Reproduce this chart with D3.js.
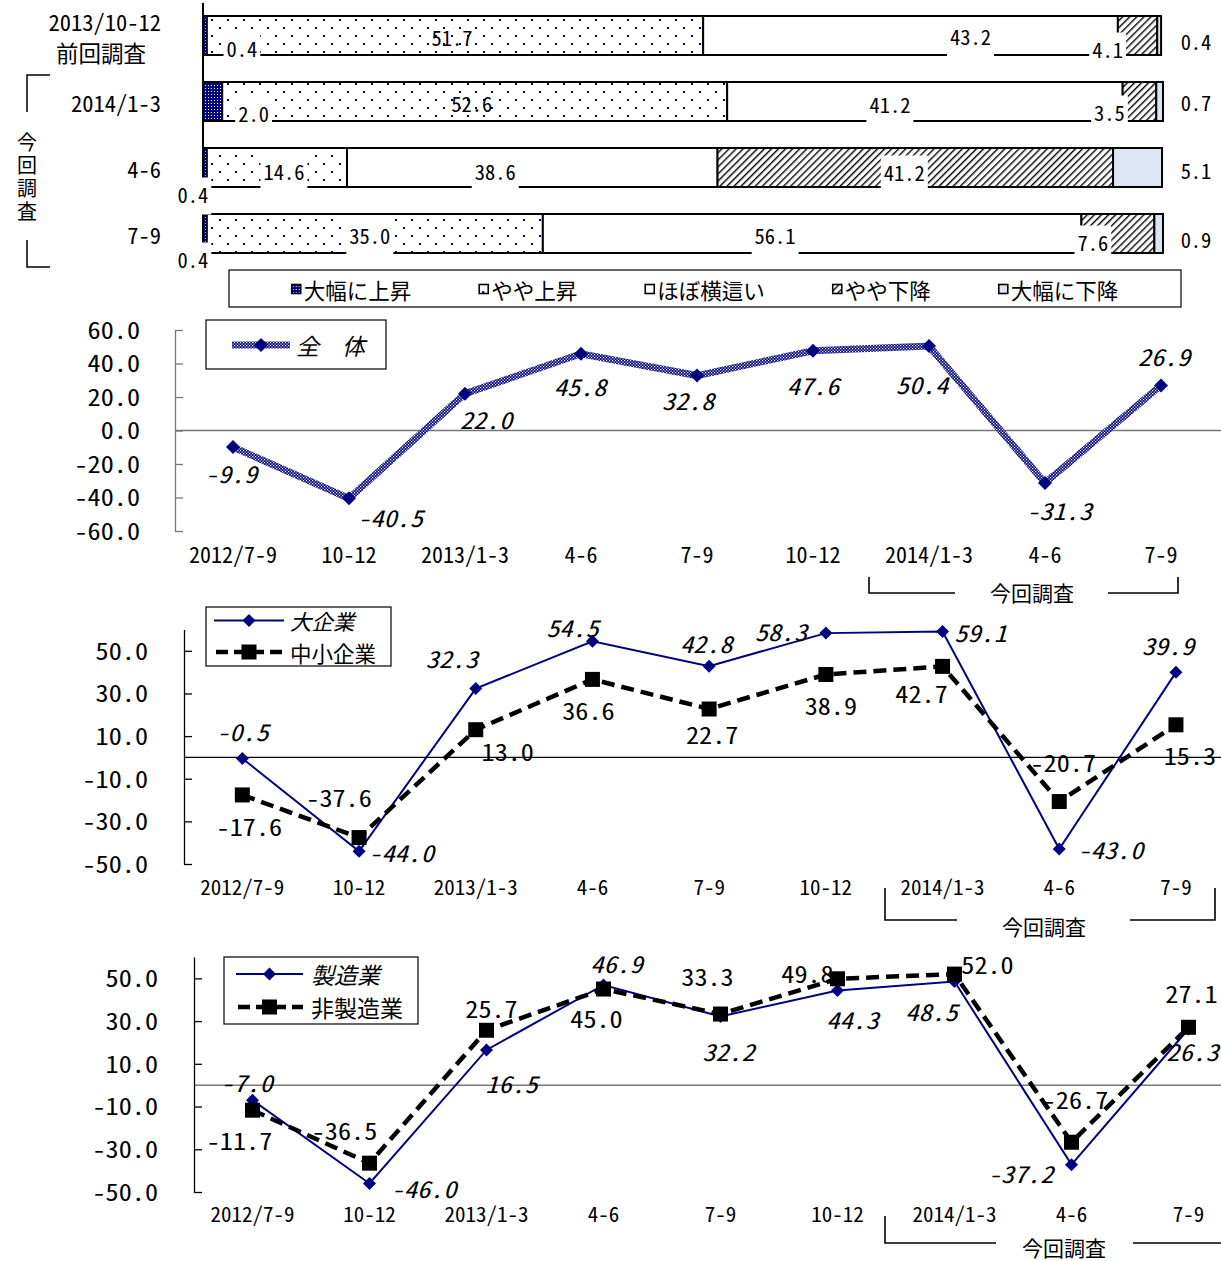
<!DOCTYPE html>
<html><head><meta charset="utf-8">
<script src="https://cdn.jsdelivr.net/npm/d3@7"></script>
<style>body{margin:0;background:#fff} svg{display:block}</style>
</head><body>
<svg id="c" width="1221" height="1261"></svg>
<script>
// ---------------- DATA ----------------
const barRows = ["2013/10-12", "2014/1-3", "4-6", "7-9"];
const barRowNote = "前回調査";
const barSeries = ["大幅に上昇", "やや上昇", "ほぼ横這い", "やや下降", "大幅に下降"];
const barValues = [
  [0.4, 51.7, 43.2, 4.1, 0.4],
  [2.0, 52.6, 41.2, 3.5, 0.7],
  [0.4, 14.6, 38.6, 41.2, 5.1],
  [0.4, 35.0, 56.1, 7.6, 0.9]
];
const quarters = ["2012/7-9", "10-12", "2013/1-3", "4-6", "7-9", "10-12", "2014/1-3", "4-6", "7-9"];
const currentLabel = "今回調査";
const totalName = "全　体";
const totalValues = [-9.9, -40.5, 22.0, 45.8, 32.8, 47.6, 50.4, -31.3, 26.9];
const sizeNames = ["大企業", "中小企業"];
const largeValues = [-0.5, -44.0, 32.3, 54.5, 42.8, 58.3, 59.1, -43.0, 39.9];
const smeValues = [-17.6, -37.6, 13.0, 36.6, 22.7, 38.9, 42.7, -20.7, 15.3];
const industryNames = ["製造業", "非製造業"];
const mfgValues = [-7.0, -46.0, 16.5, 46.9, 32.2, 44.3, 48.5, -37.2, 26.3];
const nonMfgValues = [-11.7, -36.5, 25.7, 45.0, 33.3, 49.8, 52.0, -26.7, 27.1];
const ticksTotal = [60, 40, 20, 0, -20, -40, -60];
const ticksSplit = [50, 30, 10, -10, -30, -50];

// ---------------- STYLE / LAYOUT ----------------
const FONT = "'Noto Sans Mono CJK JP','Noto Sans CJK JP','Noto Sans',sans-serif";
const NAVY = "#000080";
const SX = 1.14;
const svg = d3.select("#c").attr("font-family", FONT);
const defs = svg.append("defs");

function pat(id, w, h, rot) {
  const p = defs.append("pattern").attr("id", id).attr("patternUnits", "userSpaceOnUse")
    .attr("width", w).attr("height", h);
  if (rot) p.attr("patternTransform", `rotate(${rot})`);
  return p;
}
let p = pat("pUp2", 3, 3);
p.append("rect").attr("width", 3).attr("height", 3).attr("fill", NAVY);
p.append("rect").attr("x", 1).attr("y", 1).attr("width", 1).attr("height", 1).attr("fill", "#fff");
p = pat("pUp1", 16, 16);
p.append("rect").attr("width", 16).attr("height", 16).attr("fill", "#fff");
p.append("rect").attr("x", 3).attr("y", 3).attr("width", 2).attr("height", 2).attr("fill", NAVY);
p.append("rect").attr("x", 11).attr("y", 11).attr("width", 2).attr("height", 2).attr("fill", NAVY);
p = pat("pDn1", 5, 5, 45);
p.append("rect").attr("width", 5).attr("height", 5).attr("fill", "#fff");
p.append("rect").attr("width", 1.4).attr("height", 5).attr("fill", "#000");
p = pat("pChk", 3, 3);
p.append("rect").attr("width", 3).attr("height", 3).attr("fill", NAVY);
p.append("rect").attr("width", 1.2).attr("height", 1.2).attr("fill", "#fff");
p.append("rect").attr("x", 1.5).attr("y", 1.5).attr("width", 1.2).attr("height", 1.2).attr("fill", "#fff");

const barFills = ["url(#pUp2)", "url(#pUp1)", "#fff", "url(#pDn1)", "#DCE6F2"];

function stretchText(g, x, y, str, size, italic, anchor) {
  return g.append("text")
    .attr("transform", `translate(${x},${y}) scale(${SX},1)`)
    .attr("text-anchor", anchor || "middle").attr("dominant-baseline", "central")
    .attr("font-size", size).attr("font-style", italic ? "italic" : "normal")
    .attr("fill", "#000").text(str);
}
function plainText(g, x, y, str, size, anchor, italic) {
  return g.append("text").attr("x", x).attr("y", y)
    .attr("text-anchor", anchor || "middle").attr("dominant-baseline", "central")
    .attr("font-size", size).attr("font-style", italic ? "italic" : "normal")
    .attr("fill", "#000").text(str);
}
function diamond(g, cx, cy, r, fill) {
  g.append("path").attr("d", `M${cx},${cy - r}L${cx + r},${cy}L${cx},${cy + r}L${cx - r},${cy}Z`).attr("fill", fill);
}
function square(g, cx, cy, s) {
  g.append("rect").attr("x", cx - s / 2).attr("y", cy - s / 2).attr("width", s).attr("height", s).attr("fill", "#000");
}

// ---------------- STACKED BAR CHART ----------------
const bx = d3.scaleLinear().domain([0, 100]).range([203, 1163]);
const by = d3.scaleBand().domain(d3.range(barRows.length)).range([2.5, 266.5])
  .paddingInner(27 / 66).paddingOuter(27 / 132);
const gb = svg.append("g");
gb.append("line").attr("x1", 203).attr("x2", 203).attr("y1", 3).attr("y2", 268)
  .attr("stroke", "#000").attr("stroke-width", 2);

const segs = [];
barValues.forEach((vals, r) => {
  let cum = 0;
  vals.forEach((v, k) => { segs.push({ r, k, v, a: cum, b: cum + v }); cum += v; });
});
gb.selectAll("rect.seg").data(segs).join("rect").attr("class", "seg")
  .attr("x", d => bx(d.a)).attr("width", d => bx(d.b) - bx(d.a))
  .attr("y", d => by(d.r)).attr("height", by.bandwidth())
  .attr("fill", d => barFills[d.k]).attr("stroke", "#000").attr("stroke-width", 2);

// label nudges relative to segment centre (layout only)
const barNudge = [
  [[37, 12], [-3, 1], [60, 0], [-30, 13], [null, 5]],
  [[41, 11], [-3, 1], [-35, 2], [-30, 10], [null, 0]],
  [[-12, 26], [7, 3], [-37, 3], [-11, 4], [null, 2]],
  [[-12, 25], [-5, 1], [-37, 1], [-25, 8], [null, 5]]
];
const noBg = new Set(["0-1", "1-1"]);
segs.forEach(d => {
  const nd = barNudge[d.r][d.k];
  const cx = nd[0] === null ? 1196 : (bx(d.a) + bx(d.b)) / 2 + nd[0];
  const cy = by(d.r) + by.bandwidth() / 2 + nd[1];
  const lg = gb.append("g");
  const bg = lg.append("rect").attr("fill", "#fff");
  const t = plainText(lg, cx, cy, d.v.toFixed(1), 20.5);
  if (!noBg.has(d.r + "-" + d.k) && nd[0] !== null) {
    const bb = t.node().getBBox();
    bg.attr("x", bb.x - 3).attr("width", bb.width + 6).attr("y", cy - 16).attr("height", 37);
  } else bg.remove();
});

// row labels
barRows.forEach((r, i) => {
  const cy = by(i) + by.bandwidth() / 2 + (i === 0 ? -15 : 0);
  plainText(gb, 161, cy, r, 22.5, "end");
});
plainText(gb, 101, by(0) + by.bandwidth() / 2 + 16, barRowNote, 22.5, "middle");
// vertical bracket with 今回調査
gb.append("path").attr("d", "M50,75H27V112M27,240V267H50").attr("fill", "none").attr("stroke", "#000").attr("stroke-width", 1.5);
gb.append("text").attr("x", 27).attr("y", 132).attr("writing-mode", "vertical-rl")
  .attr("font-size", 20).attr("letter-spacing", 3).attr("fill", "#000").text(currentLabel);

// legend
const lgB = svg.append("g");
lgB.append("rect").attr("x", 229).attr("y", 270).attr("width", 952).attr("height", 37)
  .attr("fill", "#fff").attr("stroke", "#000").attr("stroke-width", 1.2);
const items = barSeries.map((name, k) => {
  const g = lgB.append("g");
  g.append("rect").attr("x", 0).attr("y", 284.5).attr("width", 9).attr("height", 9)
    .attr("fill", barFills[k]).attr("stroke", "#000").attr("stroke-width", 1.6);
  const t = plainText(g, 12, 289, name, 21.5, "start");
  return { g, w: 12 + t.node().getComputedTextLength() };
});
const gap = 68;
const tot = d3.sum(items, d => d.w) + gap * (items.length - 1);
let cx0 = 705 - tot / 2;
items.forEach(it => { it.g.attr("transform", `translate(${cx0},0)`); cx0 += it.w + gap; });

// ---------------- LINE CHARTS ----------------
function lineChart(cfg) {
  const g = svg.append("g");
  const x = d3.scaleBand().domain(d3.range(quarters.length))
    .range([cfg.x0, cfg.x0 + cfg.step * quarters.length]);
  const y = d3.scaleLinear().domain(cfg.domain).range([cfg.yBottom, cfg.yTop]);
  const px = i => x(i) + x.bandwidth() / 2;

  // zero line
  g.append("line").attr("x1", cfg.x0).attr("x2", 1221).attr("y1", y(0)).attr("y2", y(0))
    .attr("stroke", cfg.zeroColor).attr("stroke-width", cfg.zeroWidth);

  // y axis
  const ya = d3.axisLeft(y).tickValues(cfg.ticks).tickFormat(d => d.toFixed(1))
    .tickSizeInner(-8).tickSizeOuter(0).tickPadding(cfg.pad);
  const yg = g.append("g").attr("transform", `translate(${cfg.x0},0)`).call(ya);
  yg.select(".domain").attr("stroke", cfg.axisColor).attr("stroke-width", 1.3);
  yg.selectAll(".tick line").attr("stroke", cfg.axisColor).attr("stroke-width", 1.3);
  yg.selectAll(".tick text").attr("font-family", FONT).attr("font-size", 23).attr("fill", "#000")
    .attr("x", -cfg.pad / SX).attr("dy", "0.36em").attr("transform", `scale(${SX},1)`);

  // x axis labels
  const xa = d3.axisBottom(x).tickSize(0).tickPadding(0).tickFormat(i => quarters[i]);
  const xg = g.append("g").attr("transform", `translate(0,${cfg.xLabelY})`).call(xa);
  xg.select(".domain").remove();
  xg.selectAll(".tick text").attr("font-family", FONT).attr("font-size", cfg.xFont)
    .attr("fill", "#000").attr("y", 0).attr("dy", "0.36em");

  // series
  cfg.series.forEach(s => {
    const line = d3.line().x((d, i) => px(i)).y(d => y(d));
    const path = g.append("path").datum(s.values).attr("d", line).attr("fill", "none")
      .attr("stroke", s.stroke).attr("stroke-width", s.width).attr("stroke-linejoin", "miter");
    if (s.dash) path.attr("stroke-dasharray", s.dash);
    s.values.forEach((v, i) => {
      if (s.marker === "diamond") diamond(g, px(i), y(v), s.msize, NAVY);
      else square(g, px(i), y(v), s.msize);
    });
  });
  cfg.series.forEach(s => {
    s.values.forEach((v, i) => {
      const n = s.nudge[i];
      stretchText(g, px(i) + n[0], y(v) + n[1], v.toFixed(1), 23, s.italic);
    });
  });

  // legend
  const L = cfg.legend;
  g.append("rect").attr("x", L.x).attr("y", L.y).attr("width", L.w).attr("height", L.h)
    .attr("fill", "#fff").attr("stroke", "#000").attr("stroke-width", 1.2);
  cfg.series.forEach((s, k) => {
    const ly = L.rows[k];
    const ln = g.append("line").attr("x1", L.lx0).attr("x2", L.lx1).attr("y1", ly).attr("y2", ly)
      .attr("stroke", s.stroke).attr("stroke-width", s.width);
    if (s.dash) ln.attr("stroke-dasharray", "12,6").attr("x1", L.lx0 + 2);
    const mx = (L.lx0 + L.lx1) / 2;
    if (s.marker === "diamond") diamond(g, mx, ly, s.msize, NAVY);
    else square(g, mx, ly, s.msize);
    plainText(g, L.tx, ly, s.name, L.font, "start", s.italic);
  });

  // 今回調査 bracket
  const B = cfg.bracket;
  g.append("path").attr("d",
    `M${B.l},${B.top}V${B.y}H${B.l2}M${B.r2},${B.y}H${B.r}` + (B.rTop !== null ? `V${B.rTop}` : ""))
    .attr("fill", "none").attr("stroke", "#000").attr("stroke-width", 1.6);
  plainText(g, B.tx, B.ty, currentLabel, 21, "middle");
}

lineChart({
  x0: 175, step: 116, domain: [-60, 60], yBottom: 531, yTop: 330, ticks: ticksTotal, pad: 35,
  axisColor: "#777", zeroColor: "#777", zeroWidth: 1.5, xLabelY: 555, xFont: 22,
  series: [{
    name: totalName, values: totalValues, stroke: "url(#pChk)", width: 7, marker: "diamond", msize: 7,
    italic: true,
    nudge: [[-2, 26], [41, 18], [21, 25], [-1, 32], [-9, 24], [0, 34], [-7, 38], [14, 27], [3, -30]]
  }],
  legend: { x: 206, y: 320, w: 180, h: 49, rows: [345], lx0: 232, lx1: 290, tx: 296, font: 23 },
  bracket: { l: 869, top: 577, y: 593, l2: 955, r2: 1108, r: 1178, rTop: 577, tx: 1032, ty: 592 }
});

lineChart({
  x0: 184, step: 116.7, domain: [-50, 60], yBottom: 864, yTop: 629.5, ticks: ticksSplit, pad: 36,
  axisColor: "#000", zeroColor: "#000", zeroWidth: 1.2, xLabelY: 887, xFont: 21,
  series: [{
    name: sizeNames[0], values: largeValues, stroke: NAVY, width: 2, marker: "diamond", msize: 6.5,
    italic: true,
    nudge: [[0, -28], [42, 1], [-24, -31], [-20, -14], [-3, -23], [-45, -2], [38, 0], [51, 0], [-8, -28]]
  }, {
    name: sizeNames[1], values: smeValues, stroke: "#000", width: 4.5, dash: "13,7", marker: "square", msize: 15,
    italic: false,
    nudge: [[7, 31], [-20, -41], [32, 21], [-4, 30], [3, 25], [5, 30], [-21, 26], [4, -40], [14, 30]]
  }],
  legend: { x: 206, y: 607, w: 185, h: 59, rows: [620.5, 652], lx0: 214, lx1: 284, tx: 290, font: 21.5 },
  bracket: { l: 885, top: 888, y: 920, l2: 957, r2: 1130, r: 1215, rTop: 888, tx: 1044, ty: 926 }
});

lineChart({
  x0: 194, step: 117, domain: [-50, 60], yBottom: 1192, yTop: 957, ticks: ticksSplit, pad: 36,
  axisColor: "#000", zeroColor: "#777", zeroWidth: 1.5, xLabelY: 1214, xFont: 21,
  series: [{
    name: industryNames[0], values: mfgValues, stroke: NAVY, width: 2, marker: "diamond", msize: 6.5,
    italic: true,
    nudge: [[-6, -18], [54, 4], [25, 33], [13, -22], [8, 34], [15, 28], [-23, 29], [-51, 8], [4, 22]]
  }, {
    name: industryNames[1], values: nonMfgValues, stroke: "#000", width: 4.5, dash: "13,7", marker: "square", msize: 15,
    italic: false,
    nudge: [[-13, 30], [-25, -33], [5, -23], [-7, 29], [-13, -38], [-30, -6], [33, -10], [4, -43], [3, -35]]
  }],
  legend: { x: 224, y: 957, w: 194, h: 67, rows: [974, 1007], lx0: 236, lx1: 303, tx: 311, font: 23 },
  bracket: { l: 885, top: 1216, y: 1243, l2: 996, r2: 1133, r: 1221, rTop: null, tx: 1064, ty: 1247 }
});
</script>
</body></html>
